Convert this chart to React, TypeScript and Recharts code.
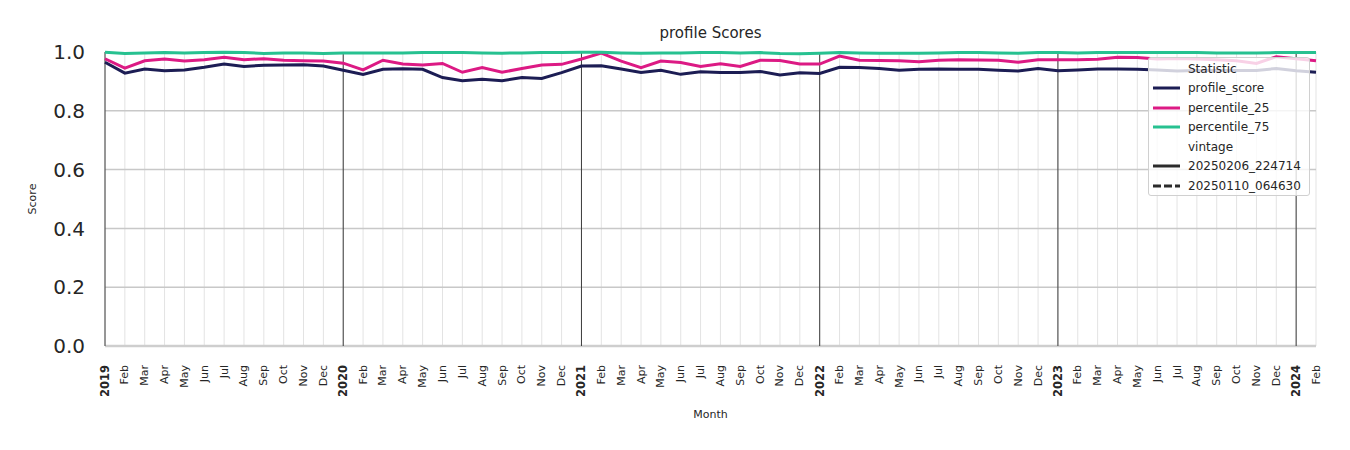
import React from "react";
import {
  LineChart,
  Line,
  XAxis,
  YAxis,
  CartesianGrid,
  ReferenceLine,
  Legend,
} from "recharts";

const years = [2019, 2020, 2021, 2022, 2023, 2024];
const monthNames = ["Jan", "Feb", "Mar", "Apr", "May", "Jun", "Jul", "Aug", "Sep", "Oct", "Nov", "Dec"];

// Jan 2019 .. Feb 2024
const monthLabels: string[] = [];
years.forEach((yr) =>
  monthNames.forEach((m, i) => {
    if (yr === 2024 && i > 1) return;
    monthLabels.push(i === 0 ? String(yr) : m);
  })
);

const profileScore = [
  0.965, 0.928, 0.942, 0.936, 0.939, 0.948, 0.959, 0.951, 0.955, 0.956, 0.957, 0.952,
  0.938, 0.924, 0.941, 0.943, 0.941, 0.913, 0.902, 0.907, 0.902, 0.913, 0.910, 0.930,
  0.952, 0.953, 0.942, 0.930, 0.938, 0.924, 0.933, 0.930, 0.930, 0.934, 0.922, 0.929,
  0.927, 0.948, 0.947, 0.944, 0.938, 0.941, 0.942, 0.941, 0.941, 0.938, 0.935, 0.944,
  0.936, 0.939, 0.942, 0.942, 0.941, 0.939, 0.935, 0.937, 0.937, 0.937, 0.937, 0.944,
  0.936, 0.931,
];

const percentile25 = [
  0.977, 0.945, 0.970, 0.976, 0.969, 0.974, 0.982, 0.974, 0.977, 0.972, 0.970, 0.969,
  0.962, 0.939, 0.972, 0.959, 0.956, 0.961, 0.931, 0.947, 0.931, 0.944, 0.956, 0.958,
  0.976, 0.996, 0.969, 0.947, 0.969, 0.964, 0.951, 0.960, 0.951, 0.972, 0.971, 0.959,
  0.959, 0.986, 0.972, 0.971, 0.970, 0.967, 0.972, 0.974, 0.973, 0.972, 0.965, 0.974,
  0.974, 0.974, 0.975, 0.982, 0.981, 0.976, 0.978, 0.976, 0.974, 0.970, 0.961, 0.984,
  0.977, 0.970,
];

const percentile75 = [
  0.999, 0.995, 0.997, 0.998, 0.997, 0.998, 0.999, 0.998, 0.995, 0.997, 0.997, 0.995,
  0.997, 0.997, 0.997, 0.997, 0.998, 0.998, 0.998, 0.997, 0.996, 0.997, 0.998, 0.998,
  0.999, 0.999, 0.997, 0.996, 0.997, 0.997, 0.998, 0.998, 0.997, 0.998, 0.995, 0.994,
  0.996, 0.998, 0.997, 0.996, 0.996, 0.996, 0.997, 0.998, 0.998, 0.997, 0.996, 0.998,
  0.998, 0.997, 0.998, 0.998, 0.998, 0.998, 0.998, 0.998, 0.997, 0.997, 0.997, 0.998,
  0.998, 0.998,
];

const yTicks = [0, 0.2, 0.4, 0.6, 0.8, 1.0];
const gridY = [0.2, 0.4, 0.6, 0.8];

const data = monthLabels.map((label, i) => ({
  idx: i,
  label,
  profile_score: profileScore[i],
  percentile_25: percentile25[i],
  percentile_75: percentile75[i],
}));

const xTicks = data.map((d) => d.idx);
const yearTicks = xTicks.filter((i) => i % 12 === 0);

const COLORS = {
  profile_score: "#1c1d54",
  percentile_25: "#dc1a84",
  percentile_75: "#27c190",
};

const FONT = "'DejaVu Sans', sans-serif";
const TEXT = "#262626";

const MonthTick = (props: any) => {
  const { x, y, payload } = props;
  const isYear = payload.value % 12 === 0;
  return (
    <text
      transform={`translate(${x},${y}) rotate(-90)`}
      textAnchor="end"
      dominantBaseline="central"
      fontSize={isYear ? 11.5 : 11}
      fontWeight={isYear ? "bold" : "normal"}
      fill={TEXT}
      fontFamily={FONT}
    >
      {monthLabels[payload.value]}
    </text>
  );
};

// seaborn-style legend: group headers are entries with an empty handle
const legendRows = [
  { label: "Statistic", kind: "header" },
  { label: "profile_score", kind: "line", color: COLORS.profile_score },
  { label: "percentile_25", kind: "line", color: COLORS.percentile_25 },
  { label: "percentile_75", kind: "line", color: COLORS.percentile_75 },
  { label: "vintage", kind: "header" },
  { label: "20250206_224714", kind: "line", color: "#2b2b2b" },
  { label: "20250110_064630", kind: "dash", color: "#2b2b2b" },
];

const LegendBox = () => (
  <div
    style={{
      width: 162,
      height: 139,
      background: "rgba(255,255,255,0.8)",
      border: "1px solid #d0d0d0",
      borderRadius: 3,
      boxSizing: "border-box",
      paddingTop: 1,
      fontFamily: FONT,
      fontSize: 12,
      color: TEXT,
    }}
  >
    {legendRows.map((r) => (
      <div
        key={r.label}
        style={{ height: 19.5, display: "flex", alignItems: "center" }}
      >
        <svg width={39} height={10} style={{ flex: "none" }}>
          {r.kind !== "header" && (
            <line
              x1={4}
              x2={31}
              y1={5}
              y2={5}
              stroke={r.color}
              strokeWidth={3}
              strokeDasharray={r.kind === "dash" ? "8 3" : undefined}
            />
          )}
        </svg>
        <span>{r.label}</span>
      </div>
    ))}
  </div>
);

export default function App() {
  return (
    <div
      style={{
        position: "absolute",
        left: 0,
        top: 0,
        width: 1350,
        height: 450,
        background: "#fff",
        fontFamily: FONT,
      }}
    >
      <div
        style={{
          position: "absolute",
          left: 105,
          width: 1211,
          top: 24,
          textAlign: "center",
          fontSize: 15,
          lineHeight: "18px",
          color: TEXT,
        }}
      >
        profile Scores
      </div>
      <div
        style={{
          position: "absolute",
          left: 105,
          width: 1211,
          top: 408,
          textAlign: "center",
          fontSize: 11,
          lineHeight: "14px",
          color: TEXT,
        }}
      >
        Month
      </div>
      <div
        style={{
          position: "absolute",
          left: 33 - 30,
          top: 199 - 7,
          width: 60,
          textAlign: "center",
          fontSize: 11,
          lineHeight: "14px",
          color: TEXT,
          transform: "rotate(-90deg)",
        }}
      >
        Score
      </div>
      <LineChart
        width={1350}
        height={450}
        data={data}
        margin={{ top: 52, right: 34, bottom: 44, left: 30 }}
        style={{ position: "absolute", left: 0, top: 0 }}
      >
        <CartesianGrid horizontal={false} stroke="#e3e3e3" strokeWidth={1} />
        {gridY.map((v) => (
          <ReferenceLine key={v} y={v} stroke="#c8c8c8" strokeWidth={1.5} />
        ))}
        <ReferenceLine y={0} stroke="#cecece" strokeWidth={2.5} />
        {yearTicks.map((t) => (
          <ReferenceLine key={t} x={t} stroke="#3c3c3c" strokeWidth={1} />
        ))}
        <XAxis
          dataKey="idx"
          type="number"
          domain={[0, monthLabels.length - 1]}
          ticks={xTicks}
          interval={0}
          height={60}
          tickLine={false}
          axisLine={false}
          tickSize={0}
          tickMargin={19}
          tick={<MonthTick />}
        />
        <YAxis
          domain={[0, 1]}
          ticks={yTicks}
          width={75}
          tickLine={false}
          axisLine={false}
          tickSize={0}
          tickMargin={20}
          tickFormatter={(v: number) => v.toFixed(1)}
          tick={{ fontSize: 20, fill: TEXT, fontFamily: FONT }}
        />
        <Line
          type="linear"
          dataKey="profile_score"
          stroke={COLORS.profile_score}
          strokeWidth={3}
          dot={false}
          isAnimationActive={false}
        />
        <Line
          type="linear"
          dataKey="percentile_25"
          stroke={COLORS.percentile_25}
          strokeWidth={3}
          dot={false}
          isAnimationActive={false}
        />
        <Line
          type="linear"
          dataKey="percentile_75"
          stroke={COLORS.percentile_75}
          strokeWidth={3}
          dot={false}
          isAnimationActive={false}
        />
        <Legend
          layout="vertical"
          align="center"
          verticalAlign="middle"
          content={<LegendBox />}
          wrapperStyle={{ left: 1148, top: 57, width: 162 }}
        />
      </LineChart>
    </div>
  );
}
